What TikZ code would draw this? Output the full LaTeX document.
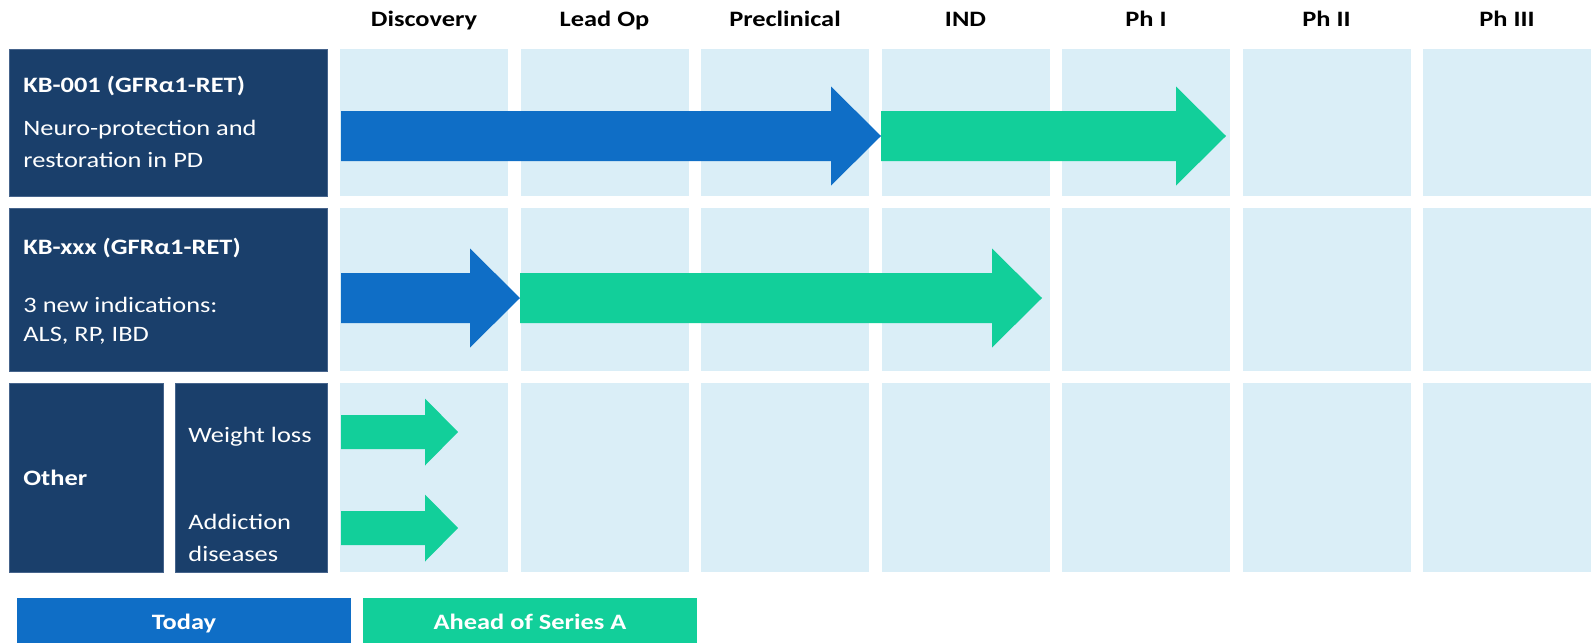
\documentclass[tikz,border=0pt]{standalone}
\usepackage{fontspec}
\setmainfont{Carlito}[FakeStretch=1.2]

\definecolor{navy}{RGB}{26,63,107}
\definecolor{navyedge}{RGB}{70,100,140}
\definecolor{cellbg}{RGB}{218,238,247}
\definecolor{todayblue}{RGB}{15,110,198}
\definecolor{seriesgreen}{RGB}{18,207,154}

% block arrow: colour, start x, tip x, centre y, half shaft, half head, head length
\newcommand\blockarrow[7]{%
  \fill[#1] (#2,#4-#5) -- (#3-#7,#4-#5) -- (#3-#7,#4-#6) -- (#3,#4)
    -- (#3-#7,#4+#6) -- (#3-#7,#4+#5) -- (#2,#4+#5) -- cycle;}

\begin{document}
\begin{tikzpicture}[x=0.5pt,y=-0.5pt,
  txt/.style={anchor=base west, inner sep=0pt, text=white,
    font=\fontsize{11}{13}\selectfont},
  txtb/.style={txt, font=\fontsize{11}{13}\selectfont\bfseries},
  hdr/.style={anchor=base, inner sep=0pt, text=black,
    font=\fontsize{11}{13}\selectfont\bfseries},
  legtxt/.style={anchor=base, inner sep=0pt, text=white,
    font=\fontsize{11}{13}\selectfont\bfseries},
  darkbox/.style={fill=navy, draw=navyedge, line width=0.4pt},
]
\useasboundingbox (0,0) rectangle (1595,643);

% stage headers and grid of cells
\foreach \name [count=\i from 0] in {Discovery,Lead Op,Preclinical,IND,Ph I,Ph II,Ph III}{
  \node[hdr] (hdr\i) at (424+180.5*\i,26) {\name};
  \foreach \t/\b in {49/196,208/371,383/572}{
    \fill[cellbg] (340+180.5*\i,\t) rectangle (508+180.5*\i,\b);
  }
}

% programme labels
\path[darkbox] (9.5,49) rectangle (327,196);
\path[darkbox] (9.5,208) rectangle (327,371);
\path[darkbox] (9.5,383) rectangle (163,572);
\path[darkbox] (175,383) rectangle (327,572);

\node[txtb] (kb1) at (23,92) {KB-001 (GFRα1-RET)};
\node[txt] (kb1a) at (23,135) {Neuro-protection and};
\node[txt] (kb1b) at (23,167) {restoration in PD};

\node[txtb] (kbx) at (23,254) {KB-xxx (GFRα1-RET)};
\node[txt] (kbxa) at (23,312) {3 new indications:};
\node[txt] (kbxb) at (23,341) {ALS, RP, IBD};

\node[txtb] (other) at (23,485) {Other};
\node[txt] (wl) at (188,442) {Weight loss};
\node[txt] (ad1) at (188,529) {Addiction};
\node[txt] (ad2) at (188,561) {diseases};

% progress arrows
\blockarrow{todayblue}{341}{881}{136}{25}{49.5}{50}
\blockarrow{seriesgreen}{881}{1226}{136}{25}{49.5}{50}
\blockarrow{todayblue}{341}{520}{298}{25}{49.5}{50}
\blockarrow{seriesgreen}{520}{1042}{298}{25}{49.5}{50}
\blockarrow{seriesgreen}{341}{458}{432}{17}{33.5}{33}
\blockarrow{seriesgreen}{341}{458}{528}{17}{33.5}{33}

% legend
\fill[todayblue] (17,598) rectangle (351,643);
\fill[seriesgreen] (363,598) rectangle (697,643);
\node[legtxt] (today) at (184,629) {Today};
\node[legtxt] (ahead) at (530,629) {Ahead of Series A};
\end{tikzpicture}
\end{document}
